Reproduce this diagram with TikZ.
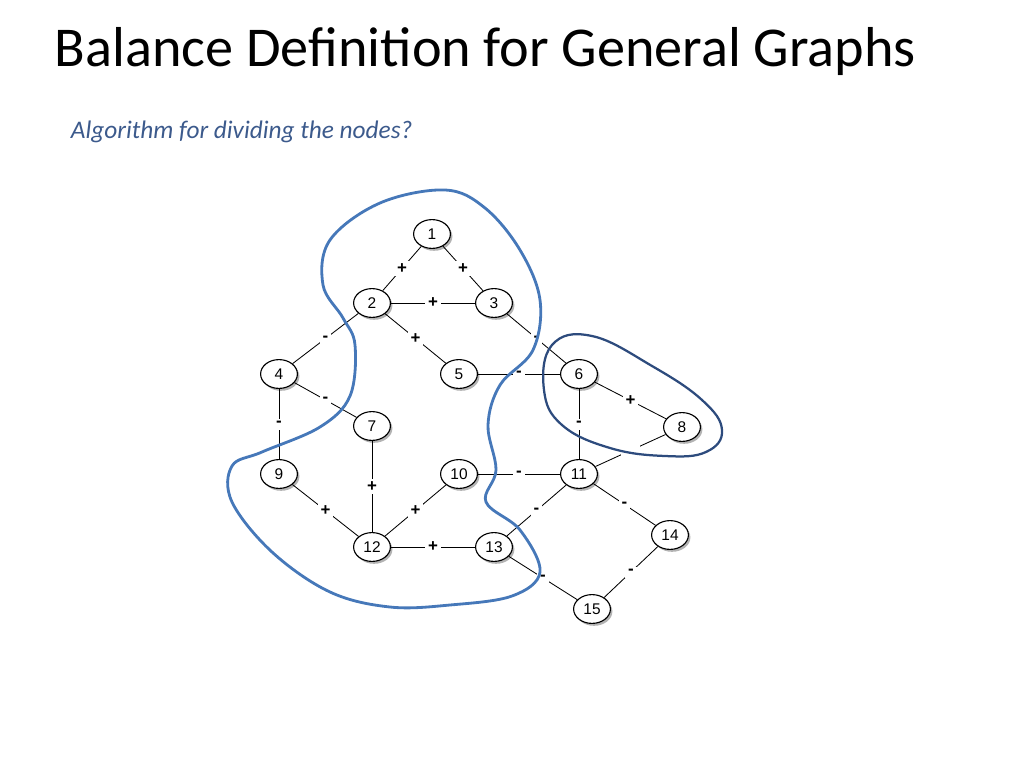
\documentclass[tikz,border=0pt]{standalone}
\usepackage{fontspec}
\setmainfont{Carlito}
\setsansfont{Liberation Sans}
\usetikzlibrary{shapes.geometric,shadows}
\definecolor{subblue}{RGB}{60,90,140}
\definecolor{curveblue}{RGB}{70,120,185}
\definecolor{curvedark}{RGB}{45,75,125}
\tikzset{
  vtx/.style={ellipse,draw,thick,fill=white,minimum width=0.92cm,minimum height=0.72cm,
    inner sep=0pt,font=\sffamily\fontsize{11}{13}\selectfont,drop shadow={opacity=0.6,shadow xshift=0.05cm,shadow yshift=-0.06cm}},
  edg/.style={draw,semithick},
  sgn/.style={fill=white,inner sep=2pt,font=\sffamily\bfseries\fontsize{12}{14}\selectfont}
}
\begin{document}
\begin{tikzpicture}[x=0.025cm,y=-0.025cm]
	\useasboundingbox (0,0) rectangle (1024,768);
	\node[anchor=west,font=\fontsize{40}{48}\selectfont] (title) at (50,52) {Balance Definition for General Graphs};
	\node[anchor=west,font=\itshape\fontsize{18}{22}\selectfont,text=subblue] (sub) at (66,132) {Algorithm for dividing the nodes?};
	
	% nodes
	\node[vtx] (n1) at (432,234) {1};
	\node[vtx] (n2) at (372,303) {2};
	\node[vtx] (n3) at (494,303) {3};
	\node[vtx] (n4) at (279,374) {4};
	\node[vtx] (n5) at (459,374) {5};
	\node[vtx] (n6) at (579,374) {6};
	\node[vtx] (n7) at (372,426) {7};
	\node[vtx] (n8) at (682,427) {8};
	\node[vtx] (n9) at (279,474) {9};
	\node[vtx] (n10) at (459,474) {10};
	\node[vtx] (n11) at (579,474) {11};
	\node[vtx] (n12) at (372,547) {12};
	\node[vtx] (n13) at (494,547) {13};
	\node[vtx] (n14) at (670,535) {14};
	\node[vtx] (n15) at (592,609) {15};
	
	% signed edges
	\foreach \a/\b/\s in {n1/n2/+,n1/n3/+,n2/n3/+,n2/n4/-,n2/n5/+,n3/n6/-,n5/n6/-,n4/n7/-,n4/n9/-,
		n6/n8/+,n6/n11/-,n7/n12/+,n9/n12/+,n10/n12/+,n10/n11/-,n11/n13/-,n12/n13/+,n11/n14/-,n13/n15/-,n14/n15/-}
		\path[edg] (\a) -- node[sgn] {\s} (\b);
	\path[edg] (n11) -- node[fill=white,minimum size=14pt,inner sep=0pt] {} (n8);
	
	% hand drawn curves
	\draw[curveblue,line width=2pt] plot[smooth cycle,tension=0.6] coordinates {
		(445,190) (485,208) (520,250) (540,300) (533,350) (500,385) (488,425) (496,470)
		(486,502) (520,530) (540,572) (512,596) (450,605) (390,607) (330,592) (272,552)
		(232,502) (232,466) (262,452) (320,427) (350,396) (355,345) (343,318) (323,285)
		(330,240) (380,203)};
	\draw[curvedark,line width=1.6pt] plot[smooth cycle,tension=0.7] coordinates {
		(552,345) (592,336) (652,366) (702,400) (722,430) (706,452) (665,456) (610,448)
		(562,425) (544,390)};
\end{tikzpicture}
\end{document}
